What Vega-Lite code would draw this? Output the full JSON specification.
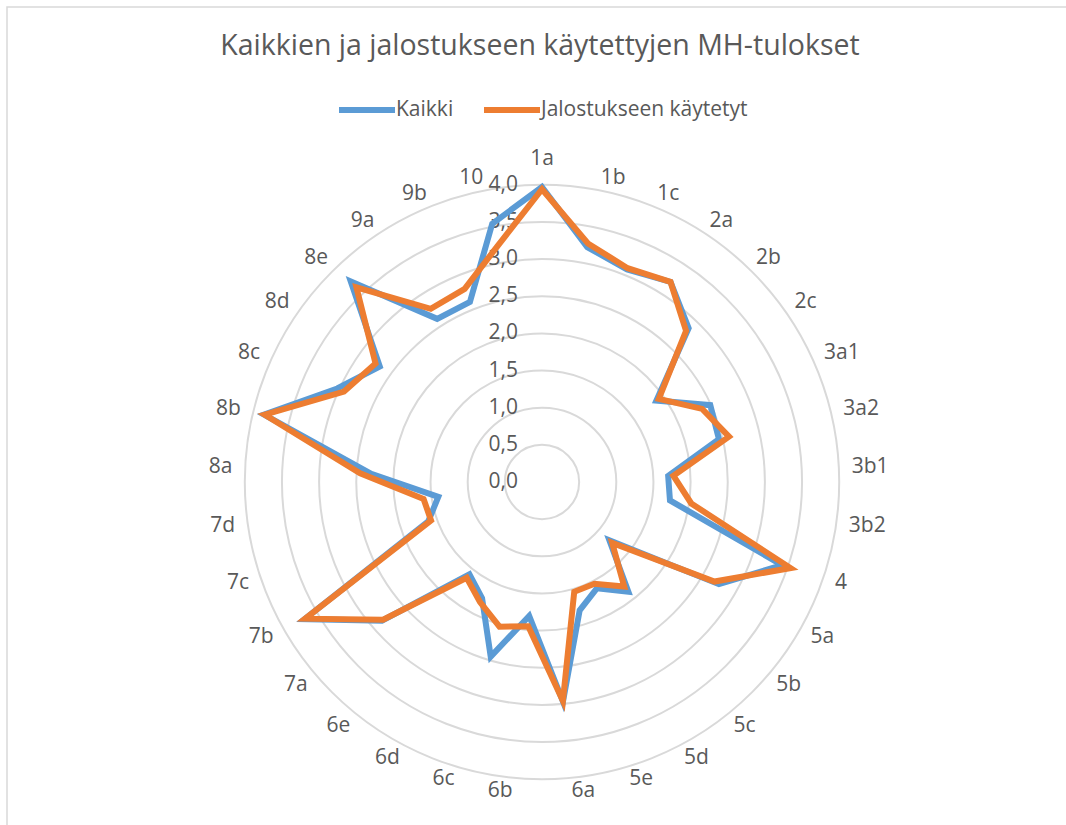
{
  "$schema": "https://vega.github.io/schema/vega-lite/v6.json",
  "width": 1066,
  "height": 830,
  "autosize": {"type": "none"},
  "padding": {"left": 7, "top": 7, "right": 0, "bottom": 0},
  "background": "white",
  "view": {"stroke": "#D9D9D9", "strokeWidth": 1.5},
  "config": {
    "font": "Open Sans",
    "locale": {"number": {"decimal": ",", "thousands": " ", "grouping": [3], "currency": ["", " €"]}}
  },
  "title": {
    "text": "Kaikkien ja jalostukseen käytettyjen MH-tulokset",
    "fontSize": 28.5,
    "font": "Open Sans",
    "fontWeight": "normal",
    "color": "#595959",
    "anchor": "middle",
    "frame": "group",
    "baseline": "middle",
    "offset": -67
  },
  "datasets": {
    "mh": [
      {"kohta": "1a", "Kaikki": 3.97, "Jalostukseen käytetyt": 3.94},
      {"kohta": "1b", "Kaikki": 3.22, "Jalostukseen käytetyt": 3.27},
      {"kohta": "1c", "Kaikki": 3.08, "Jalostukseen käytetyt": 3.10},
      {"kohta": "2a", "Kaikki": 3.20, "Jalostukseen käytetyt": 3.20},
      {"kohta": "2b", "Kaikki": 2.86, "Jalostukseen käytetyt": 2.81},
      {"kohta": "2c", "Kaikki": 1.89, "Jalostukseen käytetyt": 1.93},
      {"kohta": "3a1", "Kaikki": 2.49, "Jalostukseen käytetyt": 2.37},
      {"kohta": "3a2", "Kaikki": 2.45, "Jalostukseen käytetyt": 2.59},
      {"kohta": "3b1", "Kaikki": 1.70, "Jalostukseen käytetyt": 1.77},
      {"kohta": "3b2", "Kaikki": 1.74, "Jalostukseen käytetyt": 2.03},
      {"kohta": "4", "Kaikki": 3.42, "Jalostukseen käytetyt": 3.54},
      {"kohta": "5a", "Kaikki": 2.75, "Jalostukseen käytetyt": 2.68},
      {"kohta": "5b", "Kaikki": 1.20, "Jalostukseen käytetyt": 1.25},
      {"kohta": "5c", "Kaikki": 1.88, "Jalostukseen käytetyt": 1.79},
      {"kohta": "5d", "Kaikki": 1.61, "Jalostukseen käytetyt": 1.54},
      {"kohta": "5e", "Kaikki": 1.80, "Jalostukseen käytetyt": 1.54},
      {"kohta": "6a", "Kaikki": 2.97, "Jalostukseen käytetyt": 2.96},
      {"kohta": "6b", "Kaikki": 1.81, "Jalostukseen käytetyt": 1.95},
      {"kohta": "6c", "Kaikki": 2.45, "Jalostukseen käytetyt": 2.03},
      {"kohta": "6d", "Kaikki": 1.76, "Jalostukseen käytetyt": 1.82},
      {"kohta": "6e", "Kaikki": 1.58, "Jalostukseen käytetyt": 1.64},
      {"kohta": "7a", "Kaikki": 2.85, "Jalostukseen käytetyt": 2.83},
      {"kohta": "7b", "Kaikki": 3.69, "Jalostukseen käytetyt": 3.68},
      {"kohta": "7c", "Kaikki": 1.62, "Jalostukseen käytetyt": 1.58},
      {"kohta": "7d", "Kaikki": 1.41, "Jalostukseen käytetyt": 1.61},
      {"kohta": "8a", "Kaikki": 2.30, "Jalostukseen käytetyt": 2.45},
      {"kohta": "8b", "Kaikki": 3.85, "Jalostukseen käytetyt": 3.84},
      {"kohta": "8c", "Kaikki": 3.03, "Jalostukseen käytetyt": 2.93},
      {"kohta": "8d", "Kaikki": 2.68, "Jalostukseen käytetyt": 2.75},
      {"kohta": "8e", "Kaikki": 3.73, "Jalostukseen käytetyt": 3.62},
      {"kohta": "9a", "Kaikki": 2.61, "Jalostukseen käytetyt": 2.77},
      {"kohta": "9b", "Kaikki": 2.61, "Jalostukseen käytetyt": 2.80},
      {"kohta": "10", "Kaikki": 3.54, "Jalostukseen käytetyt": 3.22}
    ],
    "tasot": [
      {"taso": 0.0}, {"taso": 0.5}, {"taso": 1.0}, {"taso": 1.5}, {"taso": 2.0},
      {"taso": 2.5}, {"taso": 3.0}, {"taso": 3.5}, {"taso": 4.0}
    ]
  },
  "layer": [
    {
      "data": {"name": "tasot"},
      "transform": [{"filter": "datum.taso > 0"}],
      "mark": {"type": "arc", "theta": 0, "theta2": 6.2832, "filled": false, "fill": null, "stroke": "#D9D9D9", "strokeWidth": 2},
      "encoding": {
        "x": {"datum": 0, "type": "quantitative", "axis": null, "scale": {"domain": [-7.2005, 7.1467], "nice": false, "zero": false}},
        "y": {"datum": 0, "type": "quantitative", "axis": null, "scale": {"domain": [-4.7779, 6.3930], "nice": false, "zero": false}},
        "radius": {"field": "taso", "type": "quantitative", "stack": null, "scale": {"type": "linear", "domain": [0, 4], "range": [0, 297.2], "zero": true}}
      }
    },
    {
      "data": {"name": "tasot"},
      "mark": {"type": "text", "align": "right", "baseline": "middle", "dx": -24, "fontSize": 21, "color": "#595959"},
      "encoding": {
        "x": {"datum": 0, "type": "quantitative", "axis": null, "scale": {"domain": [-7.2005, 7.1467], "nice": false, "zero": false}},
        "y": {"field": "taso", "type": "quantitative", "axis": null, "scale": {"domain": [-4.7779, 6.3930], "nice": false, "zero": false}},
        "text": {"field": "taso", "type": "quantitative", "format": ".1f"}
      }
    },
    {
      "data": {"name": "mh"},
      "transform": [
        {"window": [{"op": "row_number", "as": "nro"}]},
        {"fold": ["Kaikki", "Jalostukseen käytetyt"], "as": ["sarja", "arvo"]},
        {"calculate": "(datum.nro - 1) * 2 * PI / 33", "as": "kulma"},
        {"calculate": "datum.arvo * sin(datum.kulma)", "as": "px"},
        {"calculate": "datum.arvo * cos(datum.kulma)", "as": "py"}
      ],
      "mark": {"type": "line", "interpolate": "linear-closed", "strokeWidth": 6},
      "encoding": {
        "x": {"field": "px", "type": "quantitative", "axis": null, "scale": {"domain": [-7.2005, 7.1467], "nice": false, "zero": false}},
        "y": {"field": "py", "type": "quantitative", "axis": null, "scale": {"domain": [-4.7779, 6.3930], "nice": false, "zero": false}},
        "order": {"field": "nro", "type": "quantitative"},
        "color": {
          "field": "sarja",
          "type": "nominal",
          "sort": ["Kaikki", "Jalostukseen käytetyt"],
          "scale": {"domain": ["Kaikki", "Jalostukseen käytetyt"], "range": ["#5B9BD5", "#ED7D31"]},
          "legend": {
            "orient": "none",
            "legendX": 329,
            "legendY": 72,
            "direction": "horizontal",
            "title": null,
            "symbolType": "stroke",
            "symbolStrokeWidth": 6,
            "symbolSize": 3136,
            "labelFontSize": 21,
            "labelColor": "#595959",
            "labelFont": "Open Sans",
            "labelOffset": -2,
            "columnPadding": 18,
            "labelLimit": 400,
            "padding": 0
          }
        }
      }
    },
    {
      "data": {"name": "mh"},
      "transform": [
        {"window": [{"op": "row_number", "as": "nro"}]},
        {"calculate": "(datum.nro - 1) * 2 * PI / 33", "as": "kulma"},
        {"filter": "sin(datum.kulma) > 0.01"},
        {"calculate": "4.172 * sin(datum.kulma)", "as": "lx"},
        {"calculate": "4.172 * cos(datum.kulma)", "as": "ly"}
      ],
      "mark": {"type": "text", "align": "left", "baseline": "middle", "fontSize": 21, "color": "#595959"},
      "encoding": {
        "x": {"field": "lx", "type": "quantitative", "axis": null, "scale": {"domain": [-7.2005, 7.1467], "nice": false, "zero": false}},
        "y": {"field": "ly", "type": "quantitative", "axis": null, "scale": {"domain": [-4.7779, 6.3930], "nice": false, "zero": false}},
        "text": {"field": "kohta", "type": "nominal"}
      }
    },
    {
      "data": {"name": "mh"},
      "transform": [
        {"window": [{"op": "row_number", "as": "nro"}]},
        {"calculate": "(datum.nro - 1) * 2 * PI / 33", "as": "kulma"},
        {"filter": "sin(datum.kulma) < -0.01"},
        {"calculate": "4.172 * sin(datum.kulma)", "as": "lx"},
        {"calculate": "4.172 * cos(datum.kulma)", "as": "ly"}
      ],
      "mark": {"type": "text", "align": "right", "baseline": "middle", "fontSize": 21, "color": "#595959"},
      "encoding": {
        "x": {"field": "lx", "type": "quantitative", "axis": null, "scale": {"domain": [-7.2005, 7.1467], "nice": false, "zero": false}},
        "y": {"field": "ly", "type": "quantitative", "axis": null, "scale": {"domain": [-4.7779, 6.3930], "nice": false, "zero": false}},
        "text": {"field": "kohta", "type": "nominal"}
      }
    },
    {
      "data": {"name": "mh"},
      "transform": [
        {"window": [{"op": "row_number", "as": "nro"}]},
        {"calculate": "(datum.nro - 1) * 2 * PI / 33", "as": "kulma"},
        {"filter": "abs(sin(datum.kulma)) <= 0.01"},
        {"calculate": "4.172 * sin(datum.kulma)", "as": "lx"},
        {"calculate": "4.172 * cos(datum.kulma)", "as": "ly"}
      ],
      "mark": {"type": "text", "align": "center", "baseline": "bottom", "dy": -3, "fontSize": 21, "color": "#595959"},
      "encoding": {
        "x": {"field": "lx", "type": "quantitative", "axis": null, "scale": {"domain": [-7.2005, 7.1467], "nice": false, "zero": false}},
        "y": {"field": "ly", "type": "quantitative", "axis": null, "scale": {"domain": [-4.7779, 6.3930], "nice": false, "zero": false}},
        "text": {"field": "kohta", "type": "nominal"}
      }
    }
  ]
}
